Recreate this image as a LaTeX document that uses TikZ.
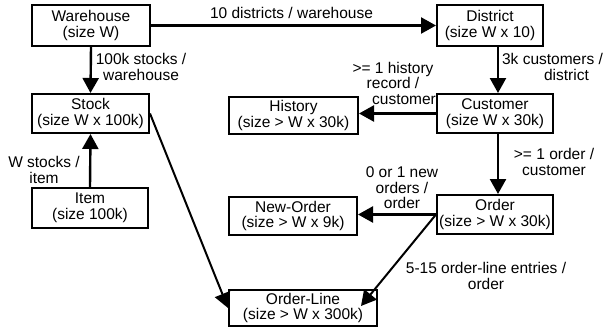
\documentclass[tikz,border=0pt]{standalone}
\usepackage{fontspec}
\setmainfont{Liberation Sans}
\usetikzlibrary{arrows.meta,calc}
\begin{document}
\begin{tikzpicture}[x=1pt,y=-1pt,
  font=\fontsize{15.5}{15.5}\selectfont,
  entity/.style={draw, line width=2pt, inner sep=0pt, align=center},
  rel/.style={line width=2.4pt, -{Triangle[length=15pt,width=16pt]}},
  slant/.style={rel, line width=2pt},
  note/.style={align=center, inner sep=0pt}]
\useasboundingbox (0,0) rectangle (605,327);

% tables
\node[entity, minimum width=118pt, minimum height=41pt] (wh) at (91,25.5) {Warehouse\\(size W)};
\node[entity, minimum width=117pt, minimum height=39pt] (st) at (90.5,113.5) {Stock\\(size W x 100k)};
\node[entity, minimum width=116pt, minimum height=40pt] (it) at (90,208) {Item\\(size 100k)};
\node[entity, minimum width=129pt, minimum height=37pt] (hi) at (293.5,115.5) {History\\(size > W x 30k)};
\node[entity, minimum width=128pt, minimum height=38pt] (no) at (293,216) {New-Order\\(size > W x 9k)};
\node[entity, minimum width=148pt, minimum height=36pt] (ol) at (303,308) {Order-Line\\(size > W x 300k)};
\node[entity, minimum width=106pt, minimum height=41pt] (di) at (490,25.5) {District\\(size W x 10)};
\node[entity, minimum width=116pt, minimum height=39pt] (cu) at (495,113.5) {Customer\\(size W x 30k)};
\node[entity, minimum width=116pt, minimum height=39pt] (or) at (495,214.5) {Order\\(size > W x 30k)};

% vertical spine on the right-hand column
\coordinate (spine) at (498,0);

% relationships
\draw[rel] (wh.east) -- (di.west);
\draw[rel] (wh.south) -- (st.north);
\draw[rel] (it.north) -- (st.south);
\draw[rel] (di.south -| spine) -- (cu.north -| spine);
\draw[rel] (cu.west) -- (hi.east |- cu.west);
\draw[rel] (cu.south -| spine) -- (or.north -| spine);
\draw[rel] (or.west) -- (no.east |- or.west);
\draw[slant] (st.east) -- (ol.west);
\draw[slant] (or.west) -- ([xshift=-17pt,yshift=-17pt]ol.north east);

% cardinalities
\node[note] (l1) at (291.5,13) {10 districts / warehouse};
\node[note] (l2) at (141,67) {100k stocks /\\warehouse};
\node[note] (l3) at (44,170) {W stocks /\\item};
\node[note] (l4) at (552.5,67) {3k customers /\\\hspace*{28pt}district};
\node[note] (l5) at (393,83) {>= 1 history\\record /\\\hspace*{22pt}customer};
\node[note] (l8) at (554,162) {>= 1 order /\\customer};
\node[note] (l6) at (402,188) {0 or 1 new\\orders /\\order};
\node[note] (l7) at (486,276) {5-15 order-line entries /\\order};
\end{tikzpicture}
\end{document}
